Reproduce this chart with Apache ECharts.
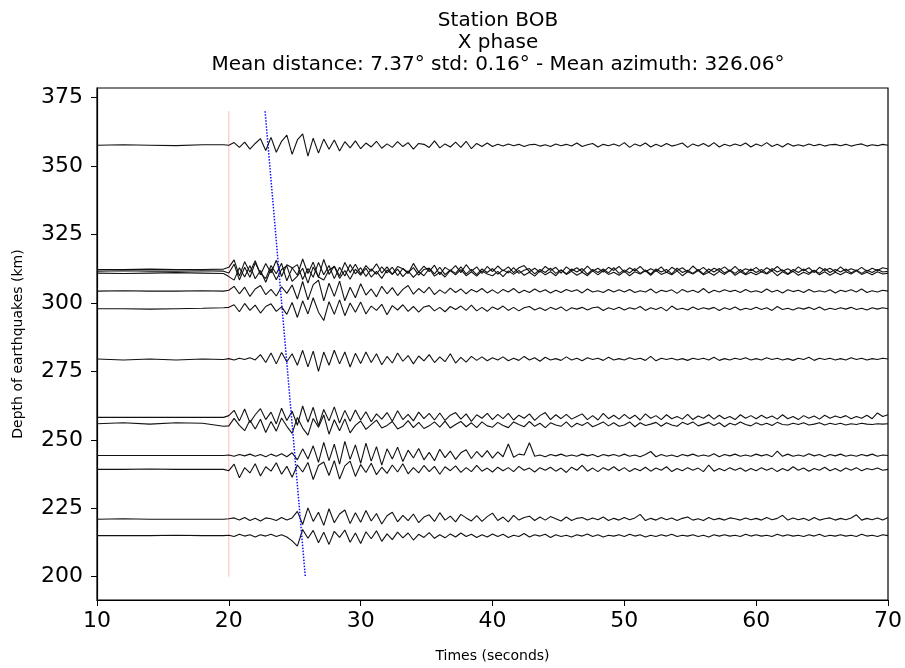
<!DOCTYPE html>
<html>
<head>
<meta charset="utf-8">
<script src="https://cdn.jsdelivr.net/npm/echarts@6/dist/echarts.min.js"></script>
<style>html,body{margin:0;padding:0;background:#fff}#c{width:905px;height:668px}</style>
</head>
<body>
<div id="c"></div>
<script>
// ---- data ----
const xTicks = [10, 20, 30, 40, 50, 60, 70];
const yTicks = [200, 225, 250, 275, 300, 325, 350, 375];
const depths = [357.6, 312.2, 311.6, 310.9, 304.3, 297.9, 279.5, 258.2, 255.9, 244.3, 239.2, 221.0, 215.0];
const preTimes = [10, 12, 14, 16, 18, 19.6];
const tStart = 20, tStep = 0.4;
const pickTime = 20;
const phaseLine = [[22.75, 370], [25.8, 200]];
const gain = 1.6; // display gain applied to the normalised trace amplitudes

const pre357 = [0, 0.1, 0, -0.1, 0.1, 0.1];
const amp357 = [0, 0.6, -0.5, 0.7, -0.9, 0.4, 1.5, -1.2, 1.8, -1.6, 0.9, 2.3, -2.1, 1.2, 2.6, -2.5, 1.6, -1.8, 1.4, -0.9, 1.2, -1.3, 0.8, -0.6, 1.0,
 -0.8, 0.5, -0.4, 0.9, -0.7, 0.3, -0.5, 0.8, -0.3, 0.6, -0.9, 0.4, 0.2, -0.5, 1.0, -0.6, 0.3, -0.4, 0.7, -0.5, 0.9, -0.8, 0.4, -0.3, 0.5,
 -0.3, 0.2, -0.2, 0.3, -0.1, 0.2, -0.3, 0.1, 0.2, -0.2, 0.1, -0.3, 0.3, -0.1, 0.2, -0.2, 0.5, -0.3, 0.1, 0.4, -0.4, 0.2, -0.1, 0.3, -0.2,
 0.6, -0.5, 0.3, -0.2, 0.5, -0.4, 0.2, -0.3, 0.4, -0.2, 0.1, 0.5, -0.5, 0.3, -0.2, 0.4, -0.3, 0.6, -0.4, 0.2, -0.2, 0.3, -0.1, 0.5, -0.4,
 0.3, -0.2, 0.6, -0.3, 0.2, -0.4, 0.4, -0.2, 0.1, -0.2, 0.3, -0.1, 0.2, -0.2, 0.1, 0.2, -0.1, 0.2, -0.2, 0.1, 0.3, -0.2, 0.1, -0.1, 0.2, 0.0];

const pre312a = [0, 0, 0.1, 0, 0, 0.1];
const amp312a = [0.5, 2.2, -1.5, 1.8, -0.6, 2.0, -1.2, 1.4, -0.8, 2.1, -1.6, 1.1, 0.4, -1.3, 2.4, -0.9, 1.7, -1.8, 2.3, -1.1, 0.8, -1.5, 1.6, -0.7, 1.2,
 -1.0, 0.9, -0.4, 1.3, -0.8, 0.6, -1.1, 0.7, 0.2, -0.9, 1.4, -0.6, 0.8, -0.5, 1.0, -1.2, 0.5, -0.3, 0.9, -0.7, 1.1, -0.4, 0.6, -0.9, 0.7,
 -0.5, 0.8, -0.3, 0.6, -0.7, 0.4, 0.9, -0.5, 0.3, -0.6, 0.7, -0.2, 0.5, -0.8, 0.6, -0.3, 0.4, -0.5, 0.8, -0.4, 0.3, -0.6, 0.5, -0.2, 0.7,
 -0.6, 0.4, -0.3, 0.7, -0.5, 0.2, -0.4, 0.6, -0.7, 0.5, -0.2, 0.4, -0.5, 0.8, -0.3, 0.5, -0.6, 0.3, -0.2, 0.6, -0.4, 0.7, -0.5, 0.2, -0.3,
 0.5, -0.6, 0.4, -0.3, 0.7, -0.4, 0.2, -0.5, 0.6, -0.3, 0.4, -0.7, 0.5, -0.2, 0.3, -0.5, 0.6, -0.4, 0.2, -0.3, 0.5, -0.4, 0.3, -0.2, 0.4, 0.1];

const pre312b = [0, 0.1, 0, 0, 0.1, 0];
const amp312b = [-0.4, 1.6, -2.0, 0.9, -1.4, 1.9, -0.5, -1.7, 1.3, -0.6, 1.8, -2.2, 0.7, 1.5, -1.9, 0.6, -1.4, 2.0, -0.8, 1.3, -1.7, 0.9, -1.1, 1.5, -0.6,
 0.8, -1.2, 0.5, -0.7, 1.0, -0.4, 0.9, -1.0, 0.6, -0.3, 0.8, -0.9, 0.4, 0.7, -0.6, 0.9, -0.8, 0.3, -0.5, 1.0, -0.6, 0.4, -0.8, 0.5, -0.3,
 0.6, -0.7, 0.3, -0.4, 0.8, -0.5, 0.2, 0.6, -0.6, 0.4, -0.3, 0.7, -0.5, 0.3, -0.6, 0.5, -0.2, 0.6, -0.7, 0.4, -0.3, 0.5, -0.4, 0.8, -0.5,
 0.3, -0.4, 0.6, -0.5, 0.3, -0.7, 0.5, -0.2, 0.4, -0.6, 0.7, -0.3, 0.2, -0.5, 0.4, -0.6, 0.5, -0.2, 0.6, -0.4, 0.3, -0.5, 0.4, -0.6, 0.5,
 -0.3, 0.4, -0.5, 0.6, -0.2, 0.3, -0.6, 0.4, -0.3, 0.5, -0.4, 0.2, -0.5, 0.6, -0.3, 0.4, -0.2, 0.5, -0.4, 0.3, -0.5, 0.2, -0.3, 0.4, -0.2, 0.0];

const pre311 = [0, -0.1, 0, 0.1, 0, -0.1];
const amp311 = [-0.8, -1.6, 1.2, -0.9, 1.7, -1.3, 0.6, -2.1, 1.0, -1.5, 0.8, 1.6, -1.9, -0.7, 1.1, -2.3, 1.4, -0.9, -1.6, 0.7, 1.5, -1.2, 0.6, -1.4, 0.9,
 -0.5, 1.1, -0.9, 0.4, -1.2, 0.7, -0.3, 0.9, -0.8, 0.5, -1.0, 0.3, -0.6, 1.0, -0.7, 0.2, -0.9, 0.6, -0.4, 0.8, -0.6, 0.3, -0.7, 0.5, -0.2,
 -0.6, 0.4, -0.8, 0.5, -0.3, 0.6, -0.5, 0.2, -0.7, 0.5, -0.4, 0.3, -0.6, 0.7, -0.3, 0.4, -0.5, 0.2, -0.6, 0.5, -0.4, 0.6, -0.3, 0.2, -0.5,
 0.4, -0.6, 0.3, -0.2, 0.5, -0.5, 0.6, -0.3, 0.2, -0.4, 0.5, -0.6, 0.3, -0.2, 0.6, -0.4, 0.2, -0.5, 0.4, -0.3, 0.6, -0.5, 0.3, -0.4, 0.2,
 -0.4, 0.3, -0.2, 0.5, -0.6, 0.3, -0.3, 0.4, -0.5, 0.2, -0.3, 0.6, -0.4, 0.3, -0.5, 0.2, -0.4, 0.3, -0.2, 0.5, -0.3, 0.2, -0.4, 0.3, -0.2, 0.0];

const pre304 = [0, 0.1, 0, 0, 0.1, 0];
const amp304 = [0.2, 1.1, -0.6, 0.9, -1.2, 0.5, 1.3, -0.8, 0.4, -1.1, 1.0, -0.5, 1.4, -1.8, 2.2, -2.0, 1.5, 2.5, -2.2, 1.8, -1.2, 2.3, -2.2, 0.9, -1.5,
 1.7, -0.9, 0.5, -1.3, 1.1, -0.6, 0.8, -1.0, 0.4, 1.3, -0.7, 0.6, -0.4, 0.9, -0.8, 0.3, -0.5, 0.7, -0.3, 0.5, -0.6, 0.4, -0.2, 0.6, -0.4,
 0.3, -0.5, 0.4, -0.2, 0.6, -0.4, 0.2, -0.3, 0.5, -0.2, 0.3, -0.4, 0.2, -0.3, 0.4, -0.1, 0.3, -0.4, 0.5, -0.2, 0.1, -0.3, 0.4, -0.2, 0.3,
 -0.2, 0.4, -0.3, 0.1, -0.2, 0.5, -0.4, 0.2, -0.1, 0.3, -0.5, 0.4, -0.2, 0.2, -0.3, 0.6, -0.4, 0.2, -0.2, 0.3, -0.1, 0.2, -0.3, 0.4, -0.2,
 0.1, -0.3, 0.5, -0.2, 0.2, -0.4, 0.3, -0.1, 0.2, -0.3, 0.4, -0.2, 0.1, -0.2, 0.3, -0.4, 0.2, -0.1, 0.3, -0.2, 0.5, -0.3, 0.1, -0.2, 0.2, 0.0];

const pre298 = [0, 0, -0.1, 0, 0.1, 0.2];
const amp298 = [0.3, 0.9, -0.7, 1.2, -0.4, 0.8, -1.0, 0.5, 1.1, -0.6, 0.4, -1.3, 1.4, -2.0, 1.8, -1.2, 2.5, -0.8, -2.7, 1.6, -1.3, 2.0, -1.6, 1.3, -0.8,
 1.5, -1.2, 0.6, -0.4, 1.0, -1.4, 0.7, -0.3, 0.9, -0.6, 0.5, -0.8, 0.4, 0.7, -0.5, 0.3, -0.7, 0.5, -0.2, 0.6, -0.4, 0.8, -0.5, 0.3, -0.6,
 0.4, -0.2, 0.6, -0.4, 0.3, -0.5, 0.2, 0.5, -0.3, 0.2, -0.4, 0.3, -0.2, 0.4, -0.5, 0.2, -0.1, 0.3, -0.3, 0.2, 0.4, -0.4, 0.2, -0.2, 0.3,
 -0.3, 0.2, -0.1, 0.5, -0.4, 0.2, -0.2, 0.3, -0.5, 0.6, -0.2, 0.1, -0.3, 0.4, -0.2, 0.2, -0.1, 0.3, -0.4, 0.2, -0.2, 0.4, -0.3, 0.1, -0.2,
 0.3, -0.2, 0.2, -0.4, 0.5, -0.2, 0.1, -0.3, 0.2, -0.1, 0.3, -0.2, 0.4, -0.3, 0.1, -0.2, 0.2, -0.1, 0.3, -0.2, 0.1, -0.3, 0.2, -0.1, 0.2, 0.0];

const pre280 = [0, -0.2, 0, -0.2, 0, -0.1];
const amp280 = [0.1, -0.2, 0.2, -0.1, 0.3, -0.2, 1.0, -0.8, 1.4, -1.1, 1.5, -0.6, 1.2, -1.4, 2.0, -1.8, 1.8, -2.8, 1.6, -1.4, 2.0, -1.1, 1.6, -1.8, 1.3,
 -1.0, 1.6, -0.8, 1.2, -1.3, 0.6, -0.9, 1.4, -0.5, 0.8, -1.1, 0.7, -0.4, 1.0, -0.8, 0.5, -0.6, 1.2, -0.9, 0.4, -0.7, 0.6, -0.3, 0.5, -0.4,
 0.3, -0.2, 0.5, -0.4, 0.2, -0.3, 0.6, -0.2, 0.3, -0.5, 0.4, -0.2, 0.1, -0.3, 0.5, -0.2, 0.2, -0.4, 0.3, -0.1, 0.2, -0.3, 0.4, -0.2, 0.1,
 -0.2, 0.3, -0.1, 0.2, -0.3, 0.6, -0.4, 0.2, -0.1, 0.2, -0.2, 0.1, -0.3, 0.2, -0.1, 0.2, -0.2, 0.4, -0.3, 0.1, -0.2, 0.2, -0.1, 0.3, -0.2,
 0.1, -0.2, 0.3, -0.1, 0.2, -0.2, 0.1, -0.3, 0.2, -0.1, 0.4, -0.3, 0.2, -0.1, 0.2, -0.2, 0.1, -0.2, 0.3, -0.1, 0.2, -0.2, 0.1, -0.1, 0.2, 0.0];

const pre258 = [0, 0, 0, 0, 0, 0];
const amp258 = [0.4, 1.6, -0.8, 1.9, -1.2, 0.6, 2.0, -0.5, 1.2, -1.5, 2.1, -0.7, 1.4, -1.8, 2.6, -1.1, 2.3, -1.9, 1.8, -0.8, 2.4, -1.3, 1.6, -0.9, 1.7,
 -0.6, 1.3, -1.0, 0.8, -0.4, 1.1, -0.9, 1.5, -0.5, 0.7, -0.8, 1.2, -0.3, 0.9, -0.6, 1.0, -0.7, 0.5, 1.1, -0.4, 0.8, -0.9, 0.6, -0.2, 0.9,
 -0.5, 0.7, -0.3, 0.9, -0.6, 0.5, -0.2, 0.8, -0.7, 0.4, 1.1, -0.5, 0.6, -0.3, 0.7, -0.4, 0.2, 0.8, -0.5, 0.4, -0.6, 0.9, -0.3, 0.5, -0.4,
 0.7, -0.3, 0.5, -0.6, 0.8, -0.2, 0.4, -0.5, 0.6, -0.3, 0.2, -0.4, 0.7, -0.5, 0.3, -0.2, 0.6, -0.4, 0.5, -0.3, 0.2, -0.5, 0.6, -0.2, 0.4,
 -0.3, 0.5, -0.2, 0.3, -0.4, 0.6, -0.3, 0.2, -0.5, 0.4, -0.2, 0.3, -0.4, 0.5, -0.2, 0.3, -0.1, 0.4, -0.3, 0.2, -0.2, 0.5, -0.3, 1.0, 0.2, 0.6];

const pre256 = [0, 0.2, -0.1, 0.2, 0.1, -0.6];
const amp256 = [-0.5, 1.2, -0.4, -1.6, 0.8, -1.2, 1.0, -2.0, 0.5, -1.7, 1.3, -0.6, -2.2, 1.4, -1.0, -2.6, 1.2, -0.8, 2.0, -2.4, 0.9, -1.6, 1.1, -2.1, -0.4,
 0.6, -1.3, -0.2, 0.8, -1.0, -0.4, 0.5, -1.2, -0.6, 0.7, -0.9, 0.3, -1.1, -0.5, 0.4, -0.8, 0.6, -1.0, -0.2, 0.5, -0.7, 0.2, -0.9, 0.4, -0.5,
 -0.8, 0.3, -0.4, -0.9, 0.4, -0.2, -0.7, 0.5, -0.6, 0.1, -0.9, 0.2, -0.3, -0.6, 0.4, -0.8, 0.1, -0.4, 0.3, -0.7, -0.2, 0.4, -0.5, 0.2, -0.6,
 -0.3, 0.4, -0.7, 0.2, -0.4, -0.1, 0.3, -0.6, 0.2, -0.3, -0.6, 0.3, -0.2, 0.4, -0.5, -0.1, 0.3, -0.4, 0.2, -0.7, 0.1, -0.3, 0.4, -0.2, -0.5,
 0.2, -0.3, 0.1, -0.4, 0.3, -0.2, -0.3, 0.1, -0.2, 0.2, -0.3, -0.1, 0.2, -0.3, 0.1, -0.2, 0.1, -0.3, 0.0, -0.2, 0.1, -0.1, -0.2, 0.0, -0.1, 0.0];

const pre244 = [0, 0, 0, 0, 0, 0];
const amp244 = [0.1, -0.2, 0.2, -0.1, 0.3, -0.2, 0.2, -0.3, 0.3, -0.2, 0.4, -0.3, 0.6, -1.0, 1.5, -0.8, 2.2, -1.6, 3.0, -1.2, 2.6, -2.0, 3.2, -0.9, 2.4,
 -1.8, 2.8, -1.3, 2.0, -2.2, 1.5, -0.8, 1.9, -1.4, 1.2, -0.6, 1.6, -1.0, 0.7, -1.2, 1.4, -0.5, 1.0, -0.9, 0.6, 1.3, -0.7, 0.9, -0.4, 1.1,
 -0.6, 0.8, -0.3, 2.6, -0.4, 0.3, 0.1, 2.9, -0.2, 0.1, -0.3, 0.2, -0.1, 0.3, -0.2, 0.1, -0.2, 0.3, -0.1, 0.2, -0.3, 0.2, -0.1, 0.2, -0.2,
 0.3, -0.2, 0.1, -0.3, 0.2, 0.9, -0.3, 0.2, -0.2, 0.1, -0.3, 0.2, -0.1, 0.3, -0.2, 0.1, -0.2, 0.4, -0.3, 0.2, -0.1, 0.3, -0.2, 0.1, -0.2,
 0.3, -0.1, 0.2, -0.3, 1.0, -0.2, 0.3, -0.2, 0.1, -0.2, 0.4, -0.1, 0.2, -0.3, 0.2, -0.1, 0.3, -0.2, 0.1, -0.2, 0.2, -0.1, 0.3, -0.2, 0.1, 0.0];

const pre239 = [0, 0, 0.1, 0, 0, 0];
const amp239 = [-0.3, 1.2, -1.9, 0.4, -0.8, 1.3, -1.5, 0.6, -0.4, 1.5, -1.1, 0.7, -1.8, 1.0, -0.6, 1.6, -2.3, 0.9, 1.7, -1.4, 2.0, -2.2, 0.8, 1.9, -1.6,
 1.1, -0.7, 1.4, -1.2, 0.5, -0.9, 1.0, -0.6, 1.3, -1.0, 0.4, -0.8, 0.9, -0.5, 0.7, -1.1, 0.6, -0.3, 0.8, -0.7, 0.4, -0.5, 0.9, -0.4, 0.3,
 -0.6, 0.5, -0.3, 0.4, -0.5, 0.7, -0.2, 0.3, -0.6, 0.4, -0.2, 0.5, -0.4, 0.3, -0.7, 0.5, -0.2, 0.9, -0.4, 0.3, -0.5, 0.4, -0.2, 0.6, -0.3,
 0.4, -0.5, 0.2, -0.3, 0.5, -0.4, 0.3, -0.2, 0.6, -0.5, 0.2, -0.3, 0.4, -0.2, 0.3, -0.5, 1.0, -0.4, 0.2, -0.3, 0.4, -0.2, 0.3, -0.4, 0.2,
 -0.3, 0.4, -0.2, 0.3, -0.5, 0.2, -0.3, 0.6, -0.2, 0.3, -0.4, 0.2, -0.2, 0.5, -0.3, 0.2, -0.4, 0.3, -0.2, 0.4, -0.3, 0.2, -0.1, 0.3, -0.2, 0.0];

const pre221 = [0, 0.1, 0, 0, 0, 0];
const amp221 = [0.1, 0.3, -0.2, 0.4, -0.3, 0.2, -0.4, 0.3, 0.1, -0.3, 0.4, -0.2, 0.3, 1.8, -1.2, 2.6, -0.5, 1.6, -1.4, 2.4, -0.8, 1.2, 2.1, -1.0, 1.5,
 -0.7, 2.0, -0.4, 1.3, -1.1, 0.8, 1.6, -0.6, 0.9, -0.3, 1.2, -0.8, 0.5, 1.0, -0.5, 1.5, -0.2, 0.7, -0.6, 1.1, 0.3, -0.4, 0.8, -0.5, 0.6,
 1.4, -0.3, 0.5, -0.6, 0.9, -0.2, 0.4, 0.7, -0.3, 0.5, -0.2, 0.6, 0.1, -0.4, 0.5, -0.3, 0.2, 0.4, -0.2, 0.3, -0.1, 0.5, -0.3, 0.2, -0.2,
 0.4, -0.1, 0.3, 1.1, -0.3, 0.2, -0.2, 0.4, -0.1, 0.3, -0.3, 0.2, 0.5, -0.2, 0.1, -0.3, 0.4, -0.1, 0.2, -0.2, 0.3, 0.1, -0.2, 0.3, -0.1,
 0.2, -0.2, 0.4, -0.1, 0.2, 0.9, -0.2, 0.3, -0.1, 0.2, -0.3, 0.4, -0.2, 0.1, 0.3, -0.2, 0.2, -0.1, 0.3, 1.0, -0.2, 0.2, -0.1, 0.3, -0.2, 0.4];

const pre215 = [0, 0, 0, 0.1, 0, 0];
const amp215 = [0.1, -0.2, 0.3, -0.1, 0.2, -0.3, 0.2, -0.1, 0.3, -0.2, 0.2, -0.3, -1.2, -2.4, 1.4, -0.6, 1.2, -1.6, 0.8, -2.0, 1.0, -0.4, 1.3, -1.5, 0.6,
 -1.8, 0.9, -0.7, 1.1, -1.3, 0.4, -0.9, 0.8, -0.5, 0.6, -1.0, 0.3, -0.4, 0.7, -0.6, 0.2, -0.5, 0.4, -0.3, 0.6, -0.2, 0.3, -0.4, 0.2, -0.3,
 0.4, -0.2, 0.3, -0.4, 0.1, -0.2, 0.5, -0.3, 0.2, -0.1, 0.3, -0.4, 0.2, -0.2, 0.1, -0.3, 0.2, -0.1, 0.4, -0.2, 0.2, -0.3, 0.1, -0.1, 0.2,
 -0.2, 0.3, -0.1, 0.2, -0.3, 0.1, -0.2, 0.2, -0.1, 0.3, -0.2, 0.1, -0.1, 0.2, -0.2, 0.1, -0.3, 0.2, -0.1, 0.2, -0.1, 0.1, -0.2, 0.3, -0.1,
 0.2, -0.1, 0.1, -0.2, 0.3, -0.1, 0.2, -0.1, 0.1, -0.2, 0.2, -0.1, 0.3, -0.2, 0.1, -0.1, 0.2, -0.1, 0.1, -0.2, 0.3, -0.1, 0.1, -0.2, 0.2, 0.0];

const preList = [pre357, pre312a, pre312b, pre311, pre304, pre298, pre280, pre258, pre256, pre244, pre239, pre221, pre215];
const ampList = [amp357, amp312a, amp312b, amp311, amp304, amp298, amp280, amp258, amp256, amp244, amp239, amp221, amp215];

// ---- build ----
const FONT = "'DejaVu Sans', sans-serif";
const series = [];
depths.forEach((d, k) => {
  const pts = [];
  preList[k].forEach((v, j) => pts.push([preTimes[j], d + gain * v]));
  ampList[k].forEach((v, i) => pts.push([+(tStart + i * tStep).toFixed(2), d + gain * v]));
  series.push({
    type: 'line', data: pts, showSymbol: false, symbol: 'none', silent: true,
    lineStyle: { color: '#111', width: 1.1 }, z: 3
  });
});
series.push({
  type: 'line', data: [[pickTime, 200], [pickTime, 370]], showSymbol: false, symbol: 'none', silent: true,
  lineStyle: { color: 'rgba(255,120,120,0.5)', width: 1 }, z: 2
});
series.push({
  type: 'line', data: phaseLine, showSymbol: false, symbol: 'none', silent: true,
  lineStyle: { color: '#1010ff', width: 1.5, type: 'dotted' }, z: 4
});

const chart = echarts.init(document.getElementById('c'), null, { renderer: 'canvas' });
chart.setOption({
  animation: false,
  backgroundColor: '#fff',
  title: {
    text: 'Station BOB\nX phase\nMean distance: 7.37° std: 0.16° - Mean azimuth: 326.06°',
    left: 493, top: 5, textAlign: 'center',
    textStyle: { fontFamily: FONT, fontSize: 20, fontWeight: 'normal', color: '#000', lineHeight: 22 }
  },
  grid: { left: 97, right: 15, top: 88, bottom: 66, show: true, borderColor: '#000', borderWidth: 1.2, backgroundColor: 'transparent' },
  xAxis: {
    type: 'value', min: 10, max: 70, interval: 10,
    name: 'Times (seconds)', nameLocation: 'middle', nameGap: 49,
    nameTextStyle: { fontFamily: FONT, fontSize: 14, color: '#000' },
    axisLine: { show: true, onZero: false, lineStyle: { color: '#000', width: 1.2 } },
    axisTick: { show: true, length: 6, lineStyle: { color: '#000', width: 1 } },
    axisLabel: { fontFamily: FONT, fontSize: 22, color: '#000', margin: 10 },
    splitLine: { show: false }
  },
  yAxis: {
    type: 'value', min: 191.5, max: 378.5,
    name: 'Depth of earthquakes (km)', nameLocation: 'middle', nameGap: 72,
    nameTextStyle: { fontFamily: FONT, fontSize: 14, color: '#000' },
    axisLine: { show: true, onZero: false, lineStyle: { color: '#000', width: 1.2 } },
    axisTick: { show: true, length: 6, customValues: yTicks, lineStyle: { color: '#000', width: 1 } },
    axisLabel: { fontFamily: FONT, fontSize: 22, color: '#000', margin: 14, customValues: yTicks },
    splitLine: { show: false }
  },
  series: series
});
</script>
</body>
</html>
